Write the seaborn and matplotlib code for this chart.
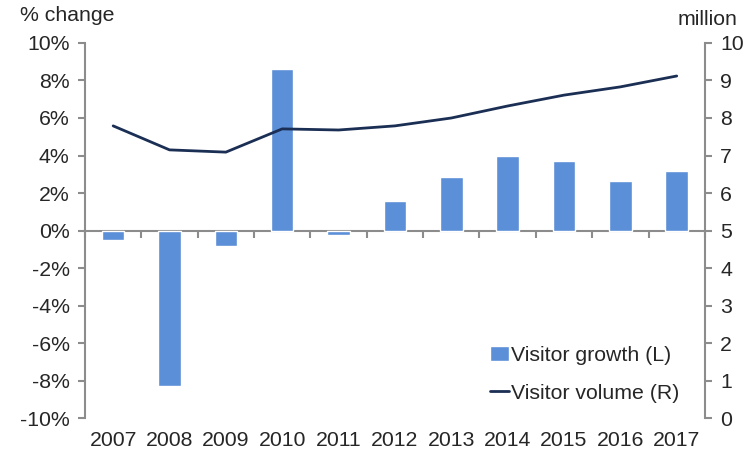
import matplotlib
matplotlib.use("Agg")
import matplotlib.pyplot as plt
import matplotlib.ticker as mticker
import numpy as np
import pandas as pd
import seaborn as sns

# datos
years = ['2007', '2008', '2009', '2010', '2011', '2012', '2013', '2014', '2015', '2016', '2017']
growth = [-0.5, -8.3, -0.8, 8.6, -0.25, 1.55, 2.85, 3.95, 3.7, 2.65, 3.2]   # % (eje izq)
volume = [7.79, 7.15, 7.09, 7.71, 7.68, 7.79, 8.0, 8.32, 8.61, 8.83, 9.12]  # millones (eje der)

df = pd.DataFrame({'year': years, 'growth': growth, 'volume': volume, 'pos': np.arange(len(years))})

sns.set_style('white')
plt.rcParams['font.family'] = ['Liberation Sans', 'DejaVu Sans']
fs = 15.3

bar_color = '#5B8FD8'
line_color = '#1B2F55'
axis_color = '#8C8C8C'

fig = plt.figure(figsize=(7.56, 4.55), dpi=100)
ax = fig.add_axes([0.1124, 0.0813, 0.82, 0.8242])

sns.barplot(data=df, x='year', y='growth', color=bar_color, width=0.4,
            saturation=1, ax=ax, label='Visitor growth (L)')
ax.set_ylim(-10, 10)
ax.set_xlim(-0.5, len(years) - 0.5)
ax.yaxis.set_major_locator(mticker.MultipleLocator(2))
ax.yaxis.set_major_formatter(mticker.FuncFormatter(lambda v, p: f'{v:.0f}%'))
ax.set_xlabel('')
ax.set_ylabel('')

ax2 = ax.twinx()
sns.lineplot(data=df, x='pos', y='volume', color=line_color, linewidth=2,
             ax=ax2, label='Visitor volume (R)', legend=False)
ax2.set_ylim(0, 10)
ax2.yaxis.set_major_locator(mticker.MultipleLocator(1))
ax2.set_ylabel('')
ax2.set_xlabel('')
ax2.set_xlim(-0.5, len(years) - 0.5)

# ejes
for a in (ax, ax2):
    for s in ('top', 'bottom'):
        a.spines[s].set_visible(False)
ax.spines['right'].set_visible(False)
ax2.spines['left'].set_visible(False)
ax.spines['left'].set_color(axis_color)
ax.spines['left'].set_linewidth(1.5)
ax2.spines['right'].set_color(axis_color)
ax2.spines['right'].set_linewidth(1.5)

ax.tick_params(axis='y', length=5, width=1.5, color=axis_color, pad=6, labelsize=fs, left=True)
ax2.tick_params(axis='y', length=5, width=1.5, color=axis_color, pad=6, labelsize=fs, right=True)
ax.tick_params(axis='x', length=0, pad=9, labelsize=fs)
ax2.tick_params(axis='x', bottom=False, labelbottom=False)

# linea de cero con marcas entre categorias (hacia abajo)
sec = ax.secondary_xaxis(0.5)
sec.set_xticks(np.arange(len(years) + 1) - 0.5)
sec.set_xticklabels([])
sec.tick_params(length=5, width=1.5, color=axis_color, direction='in')
for s in sec.spines.values():
    s.set_color(axis_color)
    s.set_linewidth(1.5)

fig.text(0.026, 0.966, '% change', fontsize=fs, va='center', ha='left')
fig.text(0.975, 0.958, 'million', fontsize=fs, va='center', ha='right')

h1, l1 = ax.get_legend_handles_labels()
h2, l2 = ax2.get_legend_handles_labels()
if ax.get_legend():
    ax.get_legend().remove()
ax2.legend(h1 + h2, l1 + l2, loc='lower right', bbox_to_anchor=(0.99, -0.01),
           frameon=False, fontsize=fs, handlelength=0.9, handletextpad=0.1,
           labelspacing=0.9)

fig.savefig('out.png', dpi=100)
